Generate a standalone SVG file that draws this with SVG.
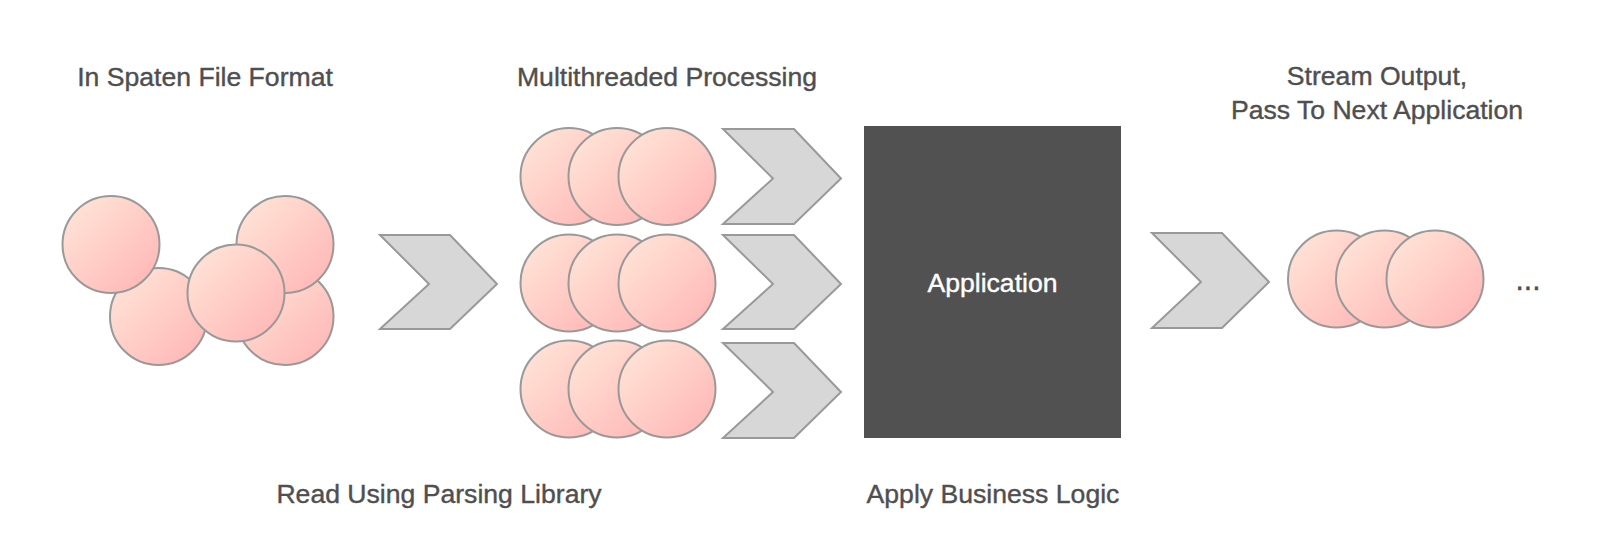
<svg xmlns="http://www.w3.org/2000/svg" width="1598" height="552" viewBox="0 0 1598 552">
<defs>
<linearGradient id="pink" x1="0" y1="0" x2="1" y2="1">
<stop offset="0" stop-color="#FFE8DA"/>
<stop offset="1" stop-color="#FFB3B3"/>
</linearGradient>
<style>
.c{fill:url(#pink);stroke:#999;stroke-width:2}
.ch{fill:#D7D7D7;stroke:#999;stroke-width:2}
.t{font-family:"Liberation Sans",Arial,Helvetica,sans-serif;font-size:26.6px;fill:#4F4F4F;stroke:#4F4F4F;stroke-width:0.4;text-anchor:middle}
</style>
</defs>
<rect width="1598" height="552" fill="#fff"/>
<g id="input">
<circle class="c" cx="285" cy="316.5" r="48.5"/>
<circle class="c" cx="285" cy="244.5" r="48.5"/>
<circle class="c" cx="158.5" cy="316.5" r="48.5"/>
<circle class="c" cx="111" cy="244.5" r="48.5"/>
<circle class="c" cx="236" cy="293" r="48.5"/>
</g>
<g id="threads">
<circle class="c" cx="569" cy="176.5" r="48.5"/>
<circle class="c" cx="617" cy="176.5" r="48.5"/>
<circle class="c" cx="667" cy="176.5" r="48.5"/>
<circle class="c" cx="569" cy="283" r="48.5"/>
<circle class="c" cx="617" cy="283" r="48.5"/>
<circle class="c" cx="667" cy="283" r="48.5"/>
<circle class="c" cx="569" cy="389" r="48.5"/>
<circle class="c" cx="617" cy="389" r="48.5"/>
<circle class="c" cx="667" cy="389" r="48.5"/>
</g>
<g id="application">
<rect x="864" y="126" width="257" height="312" fill="#515151"/>
<text x="992.5" y="292" class="t" style="fill:#fff;stroke:#fff">Application</text>
</g>
<g id="output">
<circle class="c" cx="1336.5" cy="279" r="48.5"/>
<circle class="c" cx="1384.5" cy="279" r="48.5"/>
<circle class="c" cx="1435" cy="279" r="48.5"/>
<text x="1528" y="290" class="t" style="font-size:30px">...</text>
</g>
<g id="connectors">
<polygon class="ch" points="380,235 450,235 497,284 450,329 380,329 429,284"/>
<polygon class="ch" points="723,129 794,129 841,178.5 794,224 723,224 773,178.5"/>
<polygon class="ch" points="723,235 794,235 841,284 794,329 723,329 773,284"/>
<polygon class="ch" points="723,343 794,343 841,392 794,438 723,438 773,392"/>
<polygon class="ch" points="1152,233 1222,233 1269,282 1222,328 1152,328 1201,282"/>
</g>
<g id="labels">
<text x="205" y="86" class="t">In Spaten File Format</text>
<text x="667" y="86" class="t">Multithreaded Processing</text>
<text x="1377" y="85" class="t">Stream Output,</text>
<text x="1377" y="119" class="t">Pass To Next Application</text>
<text x="439" y="503" class="t">Read Using Parsing Library</text>
<text x="993" y="503" class="t">Apply Business Logic</text>
</g>
</svg>
